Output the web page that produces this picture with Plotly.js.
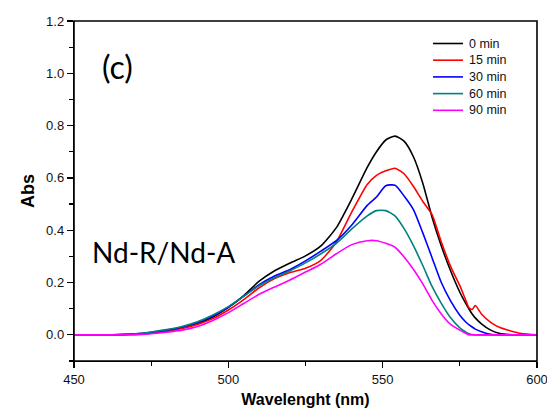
<!DOCTYPE html>
<html>
<head>
<meta charset="utf-8">
<script src="https://cdn.plot.ly/plotly-3.0.1.min.js"></script>
<style>html,body{margin:0;padding:0;background:#fff;}#chart{width:547px;height:419px;}</style>
</head>
<body>
<div id="chart"></div>
<script>
const wavelength = [450,460,465,470,475,480,485,490,495,500,505,510,515,520,525,530,535,540,545,548,551,554,557,560,563,566,569,572,575,577,578,579,580,582,585,588,591,595,600];
const abs0min  = [0,0,0,0.002,0.006,0.014,0.025,0.042,0.068,0.105,0.15,0.205,0.245,0.275,0.302,0.34,0.41,0.52,0.64,0.70,0.745,0.760,0.74,0.68,0.58,0.45,0.34,0.245,0.163,0.118,0.098,0.08,0.065,0.042,0.018,0.005,0.001,0,0];
const abs15min = [0,0,0.001,0.003,0.008,0.015,0.025,0.04,0.062,0.095,0.135,0.18,0.215,0.238,0.255,0.285,0.355,0.47,0.575,0.61,0.627,0.637,0.615,0.567,0.51,0.46,0.355,0.262,0.188,0.13,0.103,0.097,0.112,0.08,0.048,0.028,0.017,0.005,0];
const abs30min = [0,0,0.001,0.004,0.01,0.018,0.03,0.047,0.072,0.105,0.148,0.192,0.225,0.25,0.283,0.32,0.36,0.42,0.495,0.527,0.57,0.572,0.53,0.478,0.39,0.295,0.20,0.13,0.075,0.048,0.038,0.03,0.022,0.012,0.002,0,0,0,0];
const abs60min = [0,0,0.001,0.004,0.011,0.02,0.032,0.05,0.076,0.108,0.148,0.188,0.218,0.245,0.275,0.31,0.35,0.405,0.455,0.475,0.475,0.455,0.405,0.34,0.265,0.185,0.12,0.065,0.027,0.01,0.004,0.001,0,0,0,0,0,0,0];
const abs90min = [0,0,0,0,0.004,0.01,0.018,0.032,0.055,0.085,0.12,0.155,0.183,0.21,0.24,0.27,0.31,0.345,0.36,0.36,0.35,0.335,0.297,0.25,0.195,0.132,0.08,0.04,0.018,0.005,0,0,0,0,0,0,0,0,0];
const seriesNames = ["0 min","15 min","30 min","60 min","90 min"];
const seriesColors = ["#000000","#ff0000","#0000ff","#008080","#ff00ff"];
const seriesValues = [abs0min, abs15min, abs30min, abs60min, abs90min];
const xTickVals = [450,500,550,600];

const traces = seriesValues.map((v,i)=>({
  x: wavelength, y: v, type:'scatter', mode:'lines', name: seriesNames[i], showlegend:false,
  line:{color: seriesColors[i], width:1.6, shape:'spline', smoothing:0.6}
}));

// manual legend (tight row spacing like the reference)
const plotL = 74, plotR = 537, plotT = 21, plotB = 361;
const px2x = p => (p - plotL) / (plotR - plotL);
const py2y = p => (plotB - p) / (plotB - plotT);
const legendShapes = [], legendAnn = [];
seriesNames.forEach((n,i)=>{
  const rowY = 43.5 + i*16.7;
  legendShapes.push({type:'line', xref:'paper', yref:'paper', x0:px2x(433), x1:px2x(463), y0:py2y(rowY), y1:py2y(rowY),
    line:{color:seriesColors[i], width:1.6}});
  legendAnn.push({text:n, xref:'paper', yref:'paper', x:px2x(467), y:py2y(rowY), xanchor:'left', yanchor:'middle',
    showarrow:false, font:{family:'"Liberation Sans",Arial,sans-serif', size:12.5, color:'#111'}});
});
// plot frame
legendShapes.push({type:'rect', xref:'paper', yref:'paper', x0:0, x1:1, y0:0, y1:1, layer:'above',
  line:{color:'#000', width:1.6}, fillcolor:'rgba(0,0,0,0)'});

const tickFont = {family:'"Liberation Sans",Arial,sans-serif', size:13, color:'#111'};
const layout = {
  width:547, height:419,
  margin:{l:74, r:10, t:21, b:58},
  paper_bgcolor:'#fff', plot_bgcolor:'#fff',
  showlegend:false,
  xaxis:{range:[450,600], tickvals:xTickVals, ticks:'outside', ticklen:6, tickwidth:1.2, tickcolor:'#000',
         minor:{dtick:25, tick0:450, ticks:'outside', ticklen:4, tickwidth:1.2, tickcolor:'#000'},
         ticklabeloverflow:'allow',
         showline:true, linecolor:'#000', linewidth:1.2, showgrid:false, zeroline:false,
         tickfont:tickFont,
         title:{text:'Wavelenght (nm)', font:{family:'"Liberation Sans",Arial,sans-serif', size:16, color:'#000', weight:'bold'}, standoff:8}},
  yaxis:{range:[-0.1,1.2], tick0:0, dtick:0.2, tickformat:'.1f', ticks:'outside', ticklen:6, tickwidth:1.2, tickcolor:'#000',
         minor:{dtick:0.1, ticks:'outside', ticklen:4, tickwidth:1.2, tickcolor:'#000'},
         showline:true, linecolor:'#000', linewidth:1.2, showgrid:false, zeroline:false,
         tickfont:tickFont,
         title:{text:'Abs', font:{family:'"Liberation Sans",Arial,sans-serif', size:18, color:'#000', weight:'bold'}, standoff:6}},
  shapes: legendShapes,
  annotations:[
    {text:'(c)', xref:'paper', yref:'paper', x:0.095, y:0.865, xanchor:'center', yanchor:'middle', showarrow:false,
     font:{family:'Lato,"Open Sans",sans-serif', size:32, color:'#000'}},
    {text:'Nd-R/Nd-A', xref:'paper', yref:'paper', x:0.193, y:0.32, xanchor:'center', yanchor:'middle', showarrow:false,
     font:{family:'Lato,"Open Sans",sans-serif', size:28, color:'#000'}}
  ].concat(legendAnn)
};
Plotly.newPlot('chart', traces, layout, {displayModeBar:false, staticPlot:true});
</script>
</body>
</html>
